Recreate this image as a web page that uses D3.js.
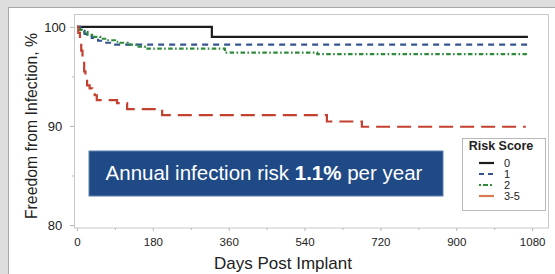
<!DOCTYPE html>
<html>
<head>
<meta charset="utf-8">
<script src="https://cdn.jsdelivr.net/npm/d3@7"></script>
<style>
  html, body { margin: 0; padding: 0; background: #dedede; }
  svg { display: block; font-family: "Liberation Sans", Arial, sans-serif; }
</style>
</head>
<body>
<svg id="chart" width="555" height="274"></svg>
<script>
// Kaplan-Meier style step data: [day, freedom %], value holds from that day on
const riskScores = ['0', '1', '2', '3-5'];
const score0 = [[0, 100], [320, 99.0], [1070, 99.0]];
const score1 = [[0, 100], [8, 99.6], [18, 99.3], [35, 98.9], [50, 98.6], [65, 98.4], [85, 98.2], [1070, 98.2]];
const score2 = [[0, 100], [6, 99.7], [12, 99.5], [25, 99.2], [36, 99.0], [55, 98.8], [71, 98.65], [90, 98.5],
  [102, 98.4], [120, 98.2], [140, 98.0], [161, 97.8], [351, 97.4], [570, 97.25], [1070, 97.25]];
const score35 = [[0, 100], [3, 99.4], [7, 98.5], [10, 97.6], [13, 96.6], [17, 95.5], [20, 94.8], [24, 94.1],
  [30, 93.8], [36, 93.6], [42, 93.1], [47, 92.6], [95, 92.3], [119, 91.7], [202, 91.1], [593, 90.45],
  [676, 89.92], [1065, 89.92]];

const xTicks = [0, 180, 360, 540, 720, 900, 1080];
const xMinor = [90, 270, 450, 630, 810, 990];
const yTicks = [80, 90, 100];
const yMinor = [85, 95];

const styles = [
  { color: '#1c1c1c', dash: null, width: 2.2 },
  { color: '#34558f', dash: '6,5', width: 2.2 },
  { color: '#2f8a3c', dash: '1.6,2.4,4.5,2.4', width: 2.2 },
  { color: '#c4402f', dash: '14,7', width: 2.2 },
];
const legendColors = ['#1c1c1c', '#34558f', '#2f8a3c', '#d97a50'];

const svg = d3.select('#chart');

// white panel
svg.append('rect')
  .attr('x', 8.5).attr('y', 7.5).attr('width', 560).attr('height', 280)
  .attr('fill', '#fff').attr('stroke', '#a8a8a8');

const x = d3.scaleLinear().domain([-7.1, 1120]).range([74, 549]);
const y = d3.scaleLinear().domain([79.7, 101.3]).range([228, 14]);

// plot frame
svg.append('rect')
  .attr('x', 74.5).attr('y', 14.5).attr('width', 474).attr('height', 213.5)
  .attr('fill', 'none').attr('stroke', '#c9c9c9');

// x axis
const xAxis = svg.append('g').attr('transform', 'translate(0,228)');
xAxis.call(d3.axisBottom(x).tickValues(xTicks).tickSize(3).tickPadding(7).tickFormat(d3.format('d')));
xAxis.append('g').call(d3.axisBottom(x).tickValues(xMinor).tickSize(2).tickFormat(''));
xAxis.selectAll('.domain').remove();
xAxis.selectAll('line').attr('stroke', '#b5b5b5');
xAxis.selectAll('text').attr('font-size', 11.5).attr('fill', '#222')
  .attr('font-family', '"Liberation Sans", Arial, sans-serif');

// y axis
const yAxis = svg.append('g').attr('transform', 'translate(74,0)');
yAxis.call(d3.axisLeft(y).tickValues(yTicks).tickSize(4).tickPadding(7));
yAxis.append('g').call(d3.axisLeft(y).tickValues(yMinor).tickSize(2).tickFormat(''));
yAxis.selectAll('.domain').remove();
yAxis.selectAll('line').attr('stroke', '#b5b5b5');
yAxis.selectAll('text').attr('font-size', 13).attr('fill', '#222')
  .attr('text-anchor', 'middle').attr('x', -19)
  .attr('font-family', '"Liberation Sans", Arial, sans-serif');

// axis titles
svg.append('text')
  .attr('x', 283).attr('y', 269)
  .attr('text-anchor', 'middle').attr('font-size', 17).attr('fill', '#222')
  .text('Days Post Implant');
svg.append('text')
  .attr('transform', 'translate(37,126) rotate(-90)')
  .attr('text-anchor', 'middle').attr('font-size', 15.8).attr('fill', '#222')
  .text('Freedom from Infection, %');

// curves
const line = d3.line().x(d => x(d[0])).y(d => y(d[1])).curve(d3.curveStepAfter);
[score0, score1, score2, score35].forEach((s, i) => {
  const st = styles[i];
  svg.append('path')
    .datum(s)
    .attr('d', line)
    .attr('fill', 'none')
    .attr('stroke', st.color)
    .attr('stroke-width', st.width)
    .attr('stroke-dasharray', st.dash);
});

// annotation box
const note = svg.append('g');
note.append('rect')
  .attr('x', 89).attr('y', 151).attr('width', 354).attr('height', 45)
  .attr('fill', '#1f4a86').attr('stroke', '#5d7fb0').attr('stroke-width', 1);
const noteText = note.append('text')
  .attr('x', 264).attr('y', 180)
  .attr('text-anchor', 'middle').attr('font-size', 20.5).attr('fill', '#fff');
noteText.append('tspan').text('Annual infection risk ');
noteText.append('tspan').attr('font-weight', 'bold').text('1.1%');
noteText.append('tspan').text(' per year');

// legend
const lg = svg.append('g');
lg.append('rect')
  .attr('x', 462.5).attr('y', 138.5).attr('width', 83).attr('height', 72)
  .attr('fill', '#fff').attr('stroke', '#b8b8b8');
lg.append('text')
  .attr('x', 501).attr('y', 150)
  .attr('text-anchor', 'middle').attr('font-size', 12.5).attr('font-weight', 'bold').attr('fill', '#222')
  .text('Risk Score');
riskScores.forEach((r, i) => {
  const yy = 163 + i * 11;
  lg.append('line')
    .attr('x1', 479).attr('x2', 494).attr('y1', yy).attr('y2', yy)
    .attr('stroke', legendColors[i]).attr('stroke-width', 2.2)
    .attr('stroke-dasharray', i === 1 ? '5,4' : i === 2 ? '2,2,5,2' : null);
  lg.append('text')
    .attr('x', 504).attr('y', yy + 4)
    .attr('font-size', 11).attr('fill', '#222')
    .text(r);
});
</script>
</body>
</html>
